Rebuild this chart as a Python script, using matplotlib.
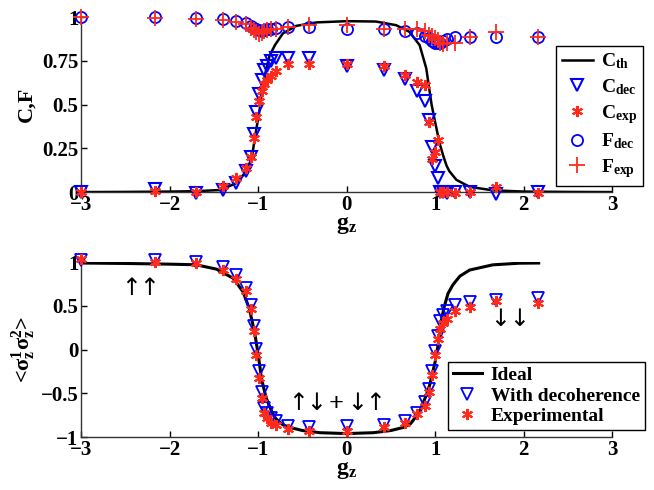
import matplotlib
matplotlib.use("Agg")
import matplotlib.pyplot as plt
from matplotlib.lines import Line2D

plt.rcParams["font.family"] = ["Liberation Serif", "DejaVu Sans"]
plt.rcParams["font.weight"] = "bold"
plt.rcParams["mathtext.fontset"] = "custom"
plt.rcParams["mathtext.rm"] = "Liberation Serif:bold"
plt.rcParams["mathtext.it"] = "Liberation Serif:italic:bold"
plt.rcParams["mathtext.bf"] = "Liberation Serif:bold"

# measured field values g_z (shared by all data series)
g = [-3.0, -2.17, -1.70, -1.40, -1.25, -1.14, -1.08, -1.05, -1.02, -0.99, -0.96,
     -0.93, -0.90, -0.85, -0.80, -0.66, -0.42, 0.0, 0.42, 0.66, 0.80, 0.88, 0.93,
     0.97, 1.00, 1.03, 1.06, 1.09, 1.13, 1.22, 1.39, 1.69, 2.16]

# top panel: concurrence and fidelity
c_dec = [0.0, 0.015, -0.005, 0.01, 0.05, 0.12, 0.20, 0.33, 0.46, 0.56, 0.64,
         0.70, 0.72, 0.75, 0.765, 0.768, 0.764, 0.72, 0.70, 0.646, 0.58, 0.52, 0.41,
         0.26, 0.15, 0.08, 0.0, 0.0, -0.005, 0.0, 0.0, -0.01, 0.0]
c_exp = [0.0, 0.005, 0.0, 0.035, 0.078, 0.135, 0.20, 0.31, 0.43, 0.52, 0.58,
         0.615, 0.64, 0.665, 0.69, 0.735, 0.735, 0.73, 0.72, 0.67, 0.63, 0.61, 0.40,
         0.19, 0.23, 0.30, 0.0, 0.0, 0.0, -0.005, 0.0, 0.03, -0.005]
f_dec = [1.0, 1.0, 0.995, 0.99, 0.98, 0.965, 0.95, 0.94, 0.93, 0.925, 0.92,
         0.925, 0.93, 0.935, 0.94, 0.945, 0.945, 0.935, 0.93, 0.92, 0.91, 0.895, 0.88,
         0.865, 0.855, 0.85, 0.855, 0.865, 0.875, 0.885, 0.885, 0.885, 0.885]
f_exp = [1.0, 0.995, 0.99, 0.985, 0.975, 0.96, 0.94, 0.925, 0.915, 0.905, 0.91,
         0.92, 0.925, 0.93, 0.935, 0.945, 0.955, 0.955, 0.935, 0.935, 0.935, 0.92, 0.90,
         0.89, 0.88, 0.87, 0.85, 0.845, 0.85, 0.855, 0.885, 0.915, 0.885]

g_cth = [-3.0, -2.5, -2.0, -1.7, -1.43, -1.25, -1.13, -1.07, -1.03, -0.98, -0.95,
         -0.907, -0.87, -0.81, -0.72, -0.57, -0.34, 0.0, 0.33, 0.56, 0.71, 0.825, 0.90,
         0.96, 1.0, 1.05, 1.09, 1.13, 1.16, 1.24, 1.39, 1.65, 2.0, 2.5, 3.0]
c_th = [0.0, 0.001, 0.003, 0.005, 0.012, 0.05, 0.12, 0.20, 0.33, 0.48, 0.60,
        0.706, 0.78, 0.84, 0.907, 0.95, 0.97, 0.977, 0.975, 0.954, 0.916, 0.84, 0.707,
        0.50, 0.40, 0.28, 0.21, 0.15, 0.12, 0.07, 0.03, 0.01, 0.003, 0.001, 0.0]

# bottom panel: <sz1 sz2>
zz_dec = [1.03, 1.03, 1.0, 0.94, 0.85, 0.71, 0.51, 0.27, 0.01, -0.25, -0.48,
          -0.67, -0.73, -0.78, -0.82, -0.87, -0.88, -0.875, -0.86, -0.82, -0.72, -0.60, -0.45,
          -0.25, -0.02, 0.155, 0.33, 0.40, 0.44, 0.51, 0.55, 0.57, 0.585]
zz_exp = [1.04, 1.0, 0.99, 0.91, 0.81, 0.67, 0.46, 0.21, -0.06, -0.32, -0.55,
          -0.72, -0.78, -0.84, -0.86, -0.91, -0.93, -0.93, -0.88, -0.84, -0.74, -0.65, -0.48,
          -0.29, -0.06, 0.12, 0.24, 0.30, 0.35, 0.44, 0.49, 0.56, 0.53]

g_ideal = [-3.0, -2.5, -2.0, -1.7, -1.47, -1.28, -1.17, -1.10, -1.04, -1.0, -0.96,
           -0.91, -0.85, -0.80, -0.72, -0.64, -0.5, -0.3, 0.0, 0.3, 0.5, 0.64, 0.72,
           0.825, 0.90, 0.94, 1.0, 1.05, 1.07, 1.10, 1.145, 1.20, 1.28, 1.39, 1.65, 1.95, 2.17]
zz_ideal = [0.99, 0.985, 0.977, 0.97, 0.92, 0.815, 0.66, 0.47, 0.20, -0.05, -0.34,
            -0.55, -0.70, -0.79, -0.86, -0.89, -0.925, -0.95, -0.96, -0.95, -0.925, -0.89, -0.85,
            -0.71, -0.52, -0.40, -0.14, 0.15, 0.33, 0.48, 0.64, 0.74, 0.84, 0.91, 0.969, 0.988, 0.99]

BLUE = "#0000ff"
RED = "#ff2a1a"
AST = (6, 2, 0)  # MATLAB-like asterisk

fig = plt.figure(figsize=(6.54, 4.9), dpi=100)
ax1 = fig.add_axes([0.124, 0.608, 0.812, 0.357])
ax2 = fig.add_axes([0.124, 0.108, 0.812, 0.357])

for ax in (ax1, ax2):
    ax.spines["top"].set_visible(False)
    ax.spines["right"].set_visible(False)
    for s in ("left", "bottom"):
        ax.spines[s].set_color("#333333")
        ax.spines[s].set_linewidth(1.0)
    ax.tick_params(direction="in", length=4, width=1, labelsize=15, pad=2)
    ax.set_xlim(-3, 3)
    ax.set_xticks([-3, -2, -1, 0, 1, 2, 3])
    ax.set_xticklabels(["\u22123", "\u22122", "\u22121", "0", "1", "2", "3"])
    for t in ax.get_xticklabels() + ax.get_yticklabels():
        t.set_fontweight("bold")

# top panel
ax1.plot(g_cth, c_th, color="black", lw=1.8, zorder=2)
ax1.plot(g, c_dec, ls="none", marker="v", ms=8, mfc="none", mec=BLUE, mew=1.5, clip_on=False, zorder=3)
ax1.plot(g, c_exp, ls="none", marker=AST, ms=8, mec=RED, mew=1.5, clip_on=False, zorder=4)
ax1.plot(g, f_dec, ls="none", marker="o", ms=8, mfc="none", mec=BLUE, mew=1.3, clip_on=False, zorder=3)
ax1.plot(g, f_exp, ls="none", marker="+", ms=12, mec=RED, mew=1.3, clip_on=False, zorder=4)
ax1.set_ylim(0, 1)
ax1.set_yticks([0, 0.25, 0.5, 0.75, 1])
ax1.set_yticklabels(["0", "0.25", "0.5", "0.75", "1"])
for t in ax1.get_yticklabels():
    t.set_fontweight("bold")
ax1.set_xlabel(r"$\mathrm{g_z}$", fontsize=17, labelpad=0)
ax1.set_ylabel("C,F", fontsize=16, fontweight="bold", labelpad=4)

h1 = [
    Line2D([], [], color="black", lw=1.8),
    Line2D([], [], ls="none", marker="v", ms=8, mfc="none", mec=BLUE, mew=1.5),
    Line2D([], [], ls="none", marker=AST, ms=8, mec=RED, mew=1.5),
    Line2D([], [], ls="none", marker="o", ms=8, mfc="none", mec=BLUE, mew=1.3),
    Line2D([], [], ls="none", marker="+", ms=12, mec=RED, mew=1.3),
]
l1 = [r"$\mathrm{C_{th}}$", r"$\mathrm{C_{dec}}$", r"$\mathrm{C_{exp}}$",
      r"$\mathrm{F_{dec}}$", r"$\mathrm{F_{exp}}$"]
leg1 = ax1.legend(h1, l1, loc="upper left", bbox_to_anchor=(0.894, 0.836), fontsize=14,
                  frameon=True, fancybox=False, edgecolor="black", framealpha=1,
                  handlelength=1.6, handletextpad=0.4, borderpad=0.3, labelspacing=0.3,
                  borderaxespad=0)
leg1.get_frame().set_linewidth(1.0)

# bottom panel
ax2.plot(g_ideal, zz_ideal, color="black", lw=2.2, zorder=2, label="Ideal")
ax2.plot(g, zz_dec, ls="none", marker="v", ms=8, mfc="none", mec=BLUE, mew=1.3,
         clip_on=False, zorder=3, label="With decoherence")
ax2.plot(g, zz_exp, ls="none", marker=AST, ms=8, mec=RED, mew=1.5,
         clip_on=False, zorder=4, label="Experimental")
ax2.set_ylim(-1, 1)
ax2.set_yticks([-1, -0.5, 0, 0.5, 1])
ax2.set_yticklabels(["\u22121", "\u22120.5", "0", "0.5", "1"])
for t in ax2.get_yticklabels():
    t.set_fontweight("bold")
ax2.set_xlabel(r"$\mathrm{g_z}$", fontsize=17, labelpad=0)
ax2.set_ylabel(r"<$\mathrm{\sigma_z^1\sigma_z^2}$>", fontsize=16, fontweight="bold", labelpad=2)

leg2 = ax2.legend(loc="lower left", bbox_to_anchor=(0.691, 0.04), fontsize=14,
                  frameon=True, fancybox=False, edgecolor="black", framealpha=1,
                  handlelength=1.5, handletextpad=0.45, borderpad=0.25, labelspacing=0.15,
                  borderaxespad=0)
leg2.get_frame().set_linewidth(1.0)

arrow_kw = dict(fontsize=17, fontweight="normal", ha="center", va="center",
                family=["DejaVu Sans"], color="black")
ax2.text(-2.43, 0.71, "\u2191", **arrow_kw)
ax2.text(-2.23, 0.71, "\u2191", **arrow_kw)
ax2.text(1.73, 0.35, "\u2193", **arrow_kw)
ax2.text(1.95, 0.35, "\u2193", **arrow_kw)
ax2.text(-0.554, -0.61, "\u2191", **arrow_kw)
ax2.text(-0.35, -0.61, "\u2193", **arrow_kw)
ax2.text(-0.124, -0.63, "+", fontsize=19, fontweight="bold", ha="center", va="center")
ax2.text(0.113, -0.61, "\u2193", **arrow_kw)
ax2.text(0.316, -0.61, "\u2191", **arrow_kw)

fig.savefig("out.png", dpi=100)
